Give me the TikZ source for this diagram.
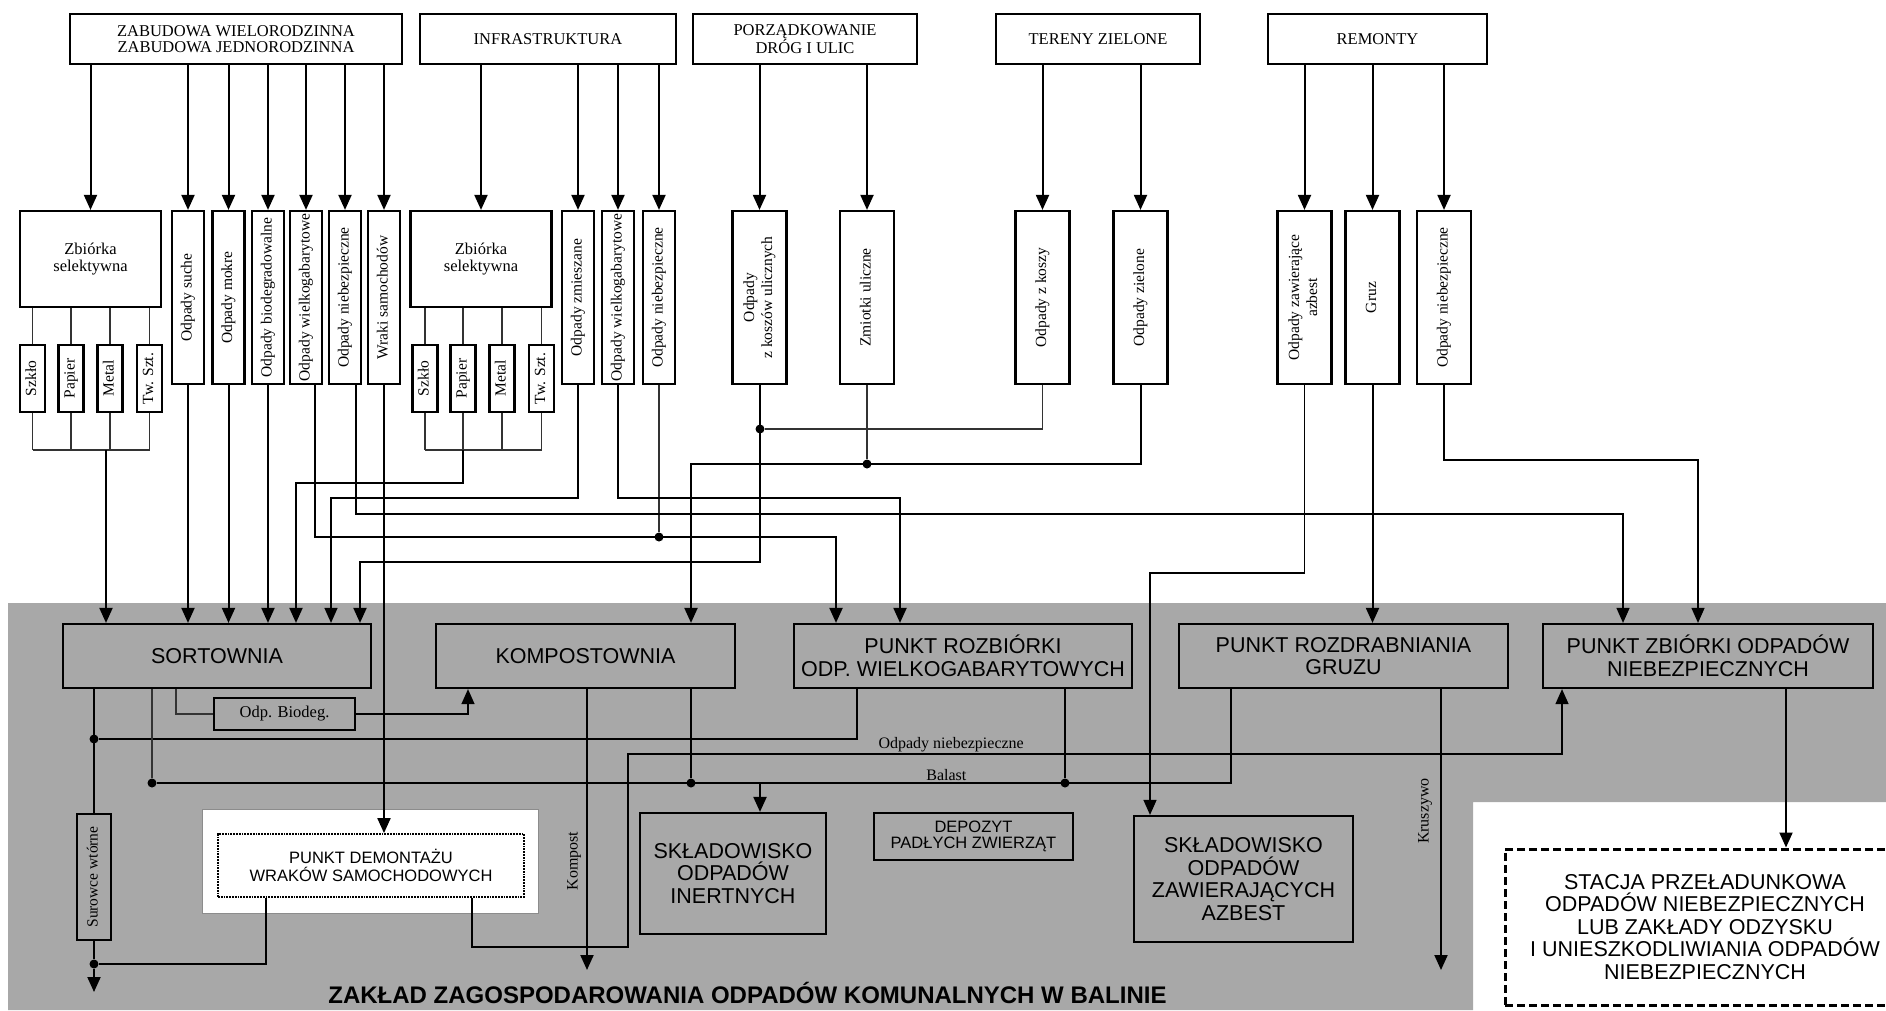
\documentclass[tikz,border=0pt]{standalone}
\usepackage{fontspec}
\setmainfont{Liberation Serif}
\setsansfont{Liberation Sans}
\usepackage{graphicx}
\usepackage{tikz}
\usetikzlibrary{arrows.meta, positioning}

\definecolor{plantgray}{RGB}{168,168,168}
\newcommand{\vlab}[1]{\rotatebox{90}{\begin{tabular}{@{}c@{}}#1\end{tabular}}}

\tikzset{
  src/.style={draw, line width=2.2pt, fill=white, minimum height=50pt, inner sep=1pt, align=center, font=\fontsize{16.5}{16}\selectfont},
  bin/.style={draw, line width=2.2pt, fill=white, inner sep=0pt, font=\fontsize{15.5}{18}\selectfont},
  plant/.style={draw, line width=2.2pt, minimum height=64pt, inner sep=0pt, align=center, font=\sffamily\fontsize{21.5}{22.5}\selectfont},
  arr/.style={line width=2pt, -{Triangle[length=15pt,width=13pt]}},
  warr/.style={line width=1.3pt, -{Triangle[length=15pt,width=13pt]}},
  wire/.style={line width=1.3pt, black!80},
  bus/.style={line width=2.4pt},
  jn/.style={circle, fill, inner sep=0pt, minimum size=9pt},
  lab/.style={inner sep=1pt, font=\fontsize{16}{16}\selectfont},
}

\begin{document}
\begin{tikzpicture}[x=1pt, y=-1pt]
  \useasboundingbox (0,0) rectangle (1886,1010);

  % plant area
  \fill[plantgray] (8,603) -- (1886,603) -- (1886,802) -- (1473,802) -- (1473,1010) -- (8,1010) -- cycle;

  % sources
  \node[src, minimum width=332pt] (zab) at (236,39) {ZABUDOWA WIELORODZINNA\\ZABUDOWA JEDNORODZINNA};
  \node[src, minimum width=256pt] (infra) at (548,39) {INFRASTRUKTURA};
  \node[src, minimum width=224pt] (porz) at (805,39) {PORZĄDKOWANIE\\DRÓG I ULIC};
  \node[src, minimum width=204pt] (ter) at (1098,39) {TERENY ZIELONE};
  \node[src, minimum width=219pt] (rem) at (1377.5,39) {REMONTY};

  % waste streams
  \node[bin, minimum width=141pt, minimum height=96pt, align=center, font=\fontsize{16.5}{17}\selectfont] (zb1) at (90.5,259) {Zbiórka\\selektywna};
  \node[bin, minimum width=141pt, minimum height=96pt, align=center, font=\fontsize{16.5}{17}\selectfont] (zb2) at (481,259) {Zbiórka\\selektywna};
  \foreach \n/\x/\t in {sz1/32.5/Szkło, pa1/71/Papier, me1/110/Metal, tw1/149.5/Tw. Szt., sz2/425/Szkło, pa2/463/Papier, me2/502/Metal, tw2/541.5/Tw. Szt.}
    \node[bin, minimum width=25pt, minimum height=67pt] (\n) at (\x,378.5) {\vlab{\t}};
  \foreach \n/\x/\t in {suche/188/Odpady suche, mokre/228.5/Odpady mokre, biodeg/268/Odpady biodegradowalne, wielko1/306/Odpady wielkogabarytowe, niebez1/345/Odpady niebezpieczne, wraki/384/Wraki samochodów, zmiesz/578/Odpady zmieszane, wielko2/618/Odpady wielkogabarytowe, niebez2/659/Odpady niebezpieczne}
    \node[bin, minimum width=32pt, minimum height=173pt] (\n) at (\x,297.5) {\vlab{\t}};
  \foreach \n/\x/\t in {koszow/759.5/Odpady\\z koszów ulicznych, zmiotki/867/Zmiotki uliczne, zkoszy/1042.5/Odpady z koszy, ziel/1140.5/Odpady zielone, azb/1304.5/Odpady zawierające\\azbest, gruz/1372.5/Gruz, niebez3/1444/Odpady niebezpieczne}
    \node[bin, minimum width=54pt, minimum height=173pt] (\n) at (\x,297.5) {\vlab{\t}};

  % plants
  \node[plant, minimum width=308pt] (sort) at (217,656) {SORTOWNIA};
  \node[plant, minimum width=299pt] (komp) at (585.5,656) {KOMPOSTOWNIA};
  \node[plant, minimum width=338pt] (rozb) at (963,656) {PUNKT ROZBIÓRKI\\ODP. WIELKOGABARYTOWYCH};
  \node[plant, minimum width=329pt] (rozd) at (1343.5,656) {PUNKT ROZDRABNIANIA\\GRUZU};
  \node[plant, minimum width=330pt] (zbn) at (1708,656) {PUNKT ZBIÓRKI ODPADÓW\\NIEBEZPIECZNYCH};
  \node[draw, line width=2.2pt, minimum width=141pt, minimum height=32pt, inner sep=0pt, font=\fontsize{16.5}{17}\selectfont] (odpbio) at (284.5,714) {Odp. Biodeg.};
  \node[bin, fill=none, minimum width=34pt, minimum height=126pt] (surow) at (94,877) {\vlab{Surowce wtórne}};
  \node[draw=black!45, line width=0.8pt, fill=white, minimum width=336pt, minimum height=104pt] (demfr) at (370,861) {};
  \node[draw, densely dotted, line width=1.8pt, minimum width=306pt, minimum height=63pt, align=center, font=\sffamily\fontsize{16.5}{18}\selectfont] (demont) at (371,865.5) {PUNKT DEMONTAŻU\\WRAKÓW SAMOCHODOWYCH};
  \node[plant, minimum width=186pt, minimum height=121pt] (inert) at (733,873.5) {SKŁADOWISKO\\ODPADÓW\\INERTNYCH};
  \node[plant, minimum width=199pt, minimum height=47pt, font=\sffamily\fontsize{16.5}{16}\selectfont] (depoz) at (973.5,836.5) {DEPOZYT\\PADŁYCH ZWIERZĄT};
  \node[plant, minimum width=219pt, minimum height=126pt] (azbest) at (1243.5,879) {SKŁADOWISKO\\ODPADÓW\\ZAWIERAJĄCYCH\\AZBEST};
  \node[plant, line width=3pt, dash pattern=on 8pt off 4pt, minimum width=400pt, minimum height=156pt] (stacja) at (1705,927) {STACJA PRZEŁADUNKOWA\\ODPADÓW NIEBEZPIECZNYCH\\LUB ZAKŁADY ODZYSKU\\I UNIESZKODLIWIANIA ODPADÓW\\NIEBEZPIECZNYCH};
  \node[anchor=base, inner sep=0pt, font=\sffamily\bfseries\fontsize{24}{24}\selectfont] (title) at (747.5,1003) {ZAKŁAD ZAGOSPODAROWANIA ODPADÓW KOMUNALNYCH W BALINIE};

  % junctions
  \node[jn] (d1) at (760,429) {};
  \node[jn] (d2) at (867,464) {};
  \node[jn] (d3) at (659,537) {};
  \node[jn] (d4) at (94,739) {};
  \node[jn] (d5) at (152,783) {};
  \node[jn] (d6) at (691,783) {};
  \node[jn] (d7) at (1065,783) {};
  \node[jn] (d8) at (94,964) {};

  % sources -> waste streams
  \foreach \s/\t in {zab/zb1, zab/suche, zab/mokre, zab/biodeg, zab/wielko1, zab/niebez1, zab/wraki, infra/zb2, infra/zmiesz, infra/wielko2, infra/niebez2, porz/koszow, porz/zmiotki, ter/zkoszy, ter/ziel, rem/azb, rem/gruz, rem/niebez3}
    \draw[arr] (\s.south -| \t.north) -- (\t.north);

  % selective collection
  \coordinate (c1) at (106,450);
  \coordinate (c2) at (463,450);
  \foreach \b in {sz1,pa1,me1,tw1} {
    \draw[wire] (zb1.south -| \b.north) -- (\b.north);
    \draw[wire] (\b.south) -- (\b.south |- c1);
  }
  \foreach \b in {sz2,pa2,me2,tw2} {
    \draw[wire] (zb2.south -| \b.north) -- (\b.north);
    \draw[wire] (\b.south) -- (\b.south |- c2);
  }
  \draw[wire] (sz1.south |- c1) -- (tw1.south |- c1);
  \draw[wire] (sz2.south |- c2) -- (tw2.south |- c2);

  % into sortownia
  \draw[arr] (c1) -- (c1 |- sort.north);
  \coordinate (s2) at (296,483);
  \draw[arr] (c2) |- (s2) -- (s2 |- sort.north);
  \foreach \b in {suche,mokre,biodeg}
    \draw[arr] (\b.south) -- (\b.south |- sort.north);
  \coordinate (s3) at (331,498);
  \draw[warr] (zmiesz.south) |- (s3) -- (s3 |- sort.north);
  \coordinate (s4) at (360,562);
  \draw[arr] (koszow.south) |- (s4) -- (s4 |- sort.north);
  \draw[wire] (zkoszy.south) |- (d1);

  % into kompostownia
  \coordinate (k1) at (691,464);
  \draw[wire] (zmiotki.south) -- (d2);
  \draw[arr] (ziel.south) |- (k1) -- (k1 |- komp.north);

  % into punkt rozbiorki
  \coordinate (r1) at (836,537);
  \draw[arr] ([xshift=9pt]wielko1.south) |- (r1) -- (r1 |- rozb.north);
  \draw[wire] (niebez2.south) -- (d3);
  \coordinate (r2) at (900,498);
  \draw[arr] (wielko2.south) |- (r2) -- (r2 |- rozb.north);

  % into punkt zbiorki
  \coordinate (z1) at (1623,514);
  \draw[warr] ([xshift=11pt]niebez1.south) |- (z1) -- (z1 |- zbn.north);
  \coordinate (z2) at (1698,460);
  \draw[warr] (niebez3.south) |- (z2) -- (z2 |- zbn.north);

  % gruz, azbest, wraki
  \draw[arr] (gruz.south) -- (gruz.south |- rozd.north);
  \coordinate (a1) at (1150,573);
  \draw[warr] (azb.south) |- (a1) -- (a1 |- azbest.north);
  \draw[arr] (wraki.south) -- (wraki.south |- demont.north);

  % outputs of the plants
  \draw[bus] (sort.south -| surow.north) -- (surow.north);
  \coordinate (rs) at (857,739);
  \draw[bus] (d4) -- (rs) -- (rs |- rozb.south);
  \draw[wire] (sort.south -| d5) -- (d5);
  \coordinate (rd) at (1231,783);
  \draw[bus] (d5) -- node[lab, above, pos=0.735] (lbbal) {Balast} (rd) -- (rd |- rozd.south);
  \draw[bus] (komp.south -| d6) -- (d6);
  \draw[bus] (rozb.south -| d7) -- (d7);
  \coordinate (ia) at (760,783);
  \draw[arr] (ia) -- (ia |- inert.north);
  \coordinate (bd) at (176,714);
  \draw[wire] (sort.south -| bd) |- (odpbio.west);
  \coordinate (kb) at (468,714);
  \draw[warr] (odpbio.east) -| (komp.south -| kb);

  % surowce wtorne and demontaz
  \draw[bus] (surow.south) -- (d8);
  \coordinate (out1) at (94,992);
  \draw[arr] (d8) -- (out1);
  \draw[bus] ([xshift=-105pt]demont.south) |- (d8);
  \coordinate (nb0) at (628,947);
  \coordinate (nb) at (1562,754);
  \draw[warr] ([xshift=101pt]demont.south) |- (nb0) |- node[lab, above, pos=0.673] (lbnieb) {Odpady niebezpieczne} (nb) -- (nb |- zbn.south);

  % kompost, kruszywo, stacja
  \coordinate (kp) at (587,970);
  \draw[arr] (kp |- komp.south) -- (kp);
  \node[lab, rotate=90] (lbkomp) at (574,861) {Kompost};
  \coordinate (kr) at (1441,970);
  \draw[arr] (kr |- rozd.south) -- (kr);
  \node[lab, rotate=90] (lbkru) at (1425,811) {Kruszywo};
  \coordinate (st) at (1786,849);
  \draw[arr] (st |- zbn.south) -- (st |- stacja.north);
\end{tikzpicture}
\end{document}
